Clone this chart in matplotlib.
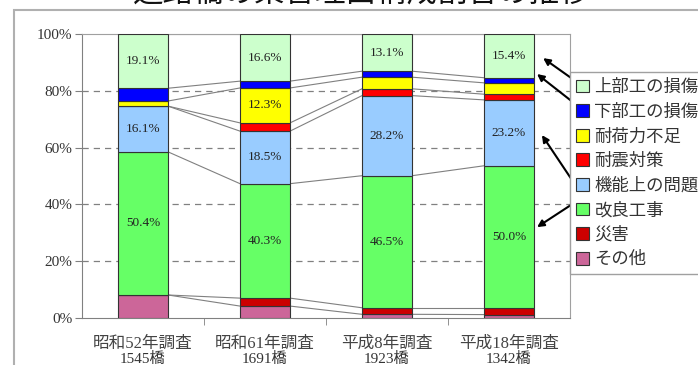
import matplotlib
matplotlib.use("Agg")
import matplotlib.pyplot as plt
from matplotlib.patches import Rectangle
import numpy as np

plt.rcParams['font.family'] = ['Liberation Serif', 'Noto Sans CJK JP', 'DejaVu Sans']

# Survey years and bridge counts
surveys = ["昭和52年調査", "昭和61年調査", "平成8年調査", "平成18年調査"]
bridge_counts = ["1545橋", "1691橋", "1923橋", "1342橋"]

# Share of each replacement reason (%), stacked bottom to top
reasons = ["その他", "災害", "改良工事", "機能上の問題", "耐震対策", "耐荷力不足", "下部工の損傷", "上部工の損傷"]
other = [8.1, 4.2, 1.3, 1.2]
disaster = [0.0, 2.8, 2.3, 2.4]
improvement = [50.4, 40.3, 46.5, 50.0]
function_issue = [16.1, 18.5, 28.2, 23.2]
seismic = [0.0, 2.9, 2.4, 2.0]
load_capacity = [1.8, 12.3, 4.1, 4.0]
substructure = [4.5, 2.4, 2.1, 1.8]
superstructure = [19.1, 16.6, 13.1, 15.4]

series = [other, disaster, improvement, function_issue, seismic,
          load_capacity, substructure, superstructure]
colors = ["#CC6699", "#CC0000", "#66FF66", "#99CCFF", "#FF0000",
          "#FFFF00", "#0000FF", "#CCFFCC"]

title = "道路橋の架替理由構成割合の推移"

W, H = 698, 365
fig = plt.figure(figsize=(W / 100, H / 100), dpi=100)
ax = fig.add_axes([82 / W, 47 / H, 488 / W, 284 / H])

x = np.arange(len(surveys))
bw = 0.41
bottom = np.zeros(len(surveys))
handles = []
tops = []
for vals, col, name in zip(series, colors, reasons):
    v = np.array(vals)
    b = ax.bar(x, v, bw, bottom=bottom, color=col, edgecolor="#333333",
               linewidth=0.8, label=name, zorder=3)
    handles.append(b)
    for xi, (vi, bi) in enumerate(zip(v, bottom)):
        if vi >= 10:
            ax.text(xi, bi + vi / 2, f"{vi:.1f}%", ha="center", va="center",
                    fontsize=9.5, color="#222222", zorder=5)
    bottom = bottom + v
    tops.append(bottom.copy())

# Series lines joining each boundary between neighbouring bars
for t in tops:
    for i in range(len(x) - 1):
        ax.plot([x[i] + bw / 2, x[i + 1] - bw / 2], [t[i], t[i + 1]],
                color="#808080", lw=0.8, zorder=2)

ax.set_xlim(-0.5, 3.5)
ax.set_ylim(0, 100)
ax.set_yticks([0, 20, 40, 60, 80, 100])
ax.set_yticklabels([f"{v}%" for v in [0, 20, 40, 60, 80, 100]],
                   fontsize=11, color="#333333")
for g in [20, 40, 60, 80]:
    ax.axhline(g, color="#808080", lw=0.9, ls=(0, (5, 4)), zorder=1)

ax.set_xticks(x)
ax.set_xticklabels(surveys, fontsize=12, color="#444444")
ax.tick_params(axis="x", which="major", length=0, pad=13)
ax.set_xticks([0.5, 1.5, 2.5], minor=True)
ax.tick_params(axis="x", which="minor", length=5, color="#808080")
ax.tick_params(axis="y", length=5, color="#808080", pad=2)
for i, n in enumerate(bridge_counts):
    ax.text(i, -0.145, n, transform=ax.get_xaxis_transform(), ha="center",
            va="center", fontsize=11, color="#333333")

for side in ["left", "bottom"]:
    ax.spines[side].set_color("#808080")
for side in ["top", "right"]:
    ax.spines[side].set_color("#a0a0a0")

# Outer chart frame
fig.patches.append(Rectangle((14 / W, -0.2), 1.2, 1.2 - 10 / H,
                             transform=fig.transFigure, fill=False,
                             edgecolor="#b0b0b0", lw=1.5, clip_on=False))

fig.text(362 / W, 1 + 7 / H, title, ha="center", va="center", fontsize=22,
         family=["Noto Sans CJK JP"], color="#111111")

leg = fig.legend(handles[::-1], reasons[::-1], loc="upper left",
                 bbox_to_anchor=(570 / W, 1 - 72 / H), frameon=True,
                 fancybox=False, edgecolor="#a0a0a0", framealpha=1,
                 prop={"family": ["Noto Sans CJK JP"], "size": 12.5},
                 handlelength=0.75, handleheight=0.75, handletextpad=0.3,
                 labelspacing=0.38, borderpad=0.35, borderaxespad=0)
for t in leg.get_texts():
    t.set_color("#333333")

# Arrows from legend entries to the latest survey's segments
arrow_targets = [(3.28, 91.5, 285), (3.23, 85.9, 262),
                 (3.27, 64.4, 182), (3.23, 32.0, 162)]
for xd, yd, ty in arrow_targets:
    ax.annotate("", xy=(xd, yd), xycoords="data",
                xytext=(574, ty), textcoords="figure pixels",
                arrowprops=dict(arrowstyle="-|>", color="black", lw=1.5,
                                mutation_scale=10, shrinkA=0, shrinkB=0),
                zorder=10, annotation_clip=False)

fig.savefig("out.png", dpi=100)
